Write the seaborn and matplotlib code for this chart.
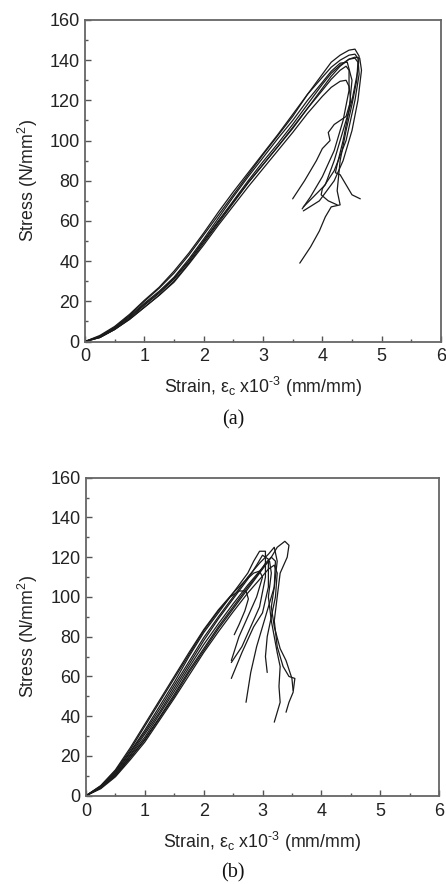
import matplotlib
matplotlib.use("Agg")
import matplotlib.pyplot as plt
from matplotlib.ticker import MultipleLocator
import seaborn as sns
import pandas as pd

# ---- Panel (a): stress-strain curves (strain x1e-3, stress N/mm2) ----
a1_strain = [0, .25, .5, .75, 1, 1.25, 1.5, 1.75, 2, 2.25, 2.5, 2.75, 3, 3.25, 3.5, 3.75, 4, 4.15, 4.3, 4.45, 4.55, 4.62,
             4.6, 4.5, 4.35, 4.2, 4.05, 3.85, 3.68]
a1_stress = [0, 2.5, 7, 13, 20, 26.5, 34, 43, 53, 63, 73, 83, 93, 102.5, 112, 123, 133, 139, 142.5, 145, 145.5, 142,
             135, 120, 105, 90, 78, 72, 67]
a2_strain = [0, .25, .5, .75, 1, 1.25, 1.5, 1.75, 2, 2.25, 2.5, 2.75, 3, 3.25, 3.5, 3.75, 4, 4.15, 4.3, 4.45, 4.55, 4.63, 4.66,
             4.6, 4.5, 4.35, 4.2, 3.95, 3.68]
a2_stress = [0, 2, 6, 11, 17, 23, 30, 39, 49, 59, 69, 79, 88, 97, 106, 116, 126, 132, 137, 140.5, 141.5, 141, 135,
             120, 105, 90, 80, 70, 65]
a3_strain = [0, .25, .5, .75, 1, 1.25, 1.5, 1.75, 2, 2.25, 2.5, 2.75, 3, 3.25, 3.5, 3.75, 4, 4.15, 4.3, 4.42,
             4.5, 4.45, 4.35, 4.25, 4.22, 4.3, 4.4, 4.5, 4.64]
a3_stress = [0, 2.5, 7, 12.5, 19, 25, 32, 41, 51, 61.5, 72, 82, 91.5, 101, 110, 120, 129, 134.5, 138.5, 139,
             130, 115, 100, 88, 84, 83, 78, 73, 71]
a4_strain = [0, .25, .5, .75, 1, 1.25, 1.5, 1.75, 2, 2.25, 2.5, 2.75, 3, 3.25, 3.5, 3.75, 4, 4.15, 4.3, 4.4,
             4.45, 4.48, 4.4, 4.2, 4.1, 4.13, 4.0, 3.9, 3.7, 3.5]
a4_stress = [0, 2, 6, 11, 17, 23, 29.5, 38.5, 48, 58, 67.5, 77, 86, 95, 104, 113.5, 122, 126.5, 129.5, 130,
             127, 120, 112, 108, 104, 100, 96, 90, 80, 71]
a5_strain = [0, .25, .5, .75, 1, 1.25, 1.5, 1.75, 2, 2.25, 2.5, 2.75, 3, 3.25, 3.5, 3.75, 4, 4.15, 4.3, 4.45, 4.55,
             4.6, 4.58, 4.5, 4.4, 4.3, 4.25, 4.3, 4.15, 4.05, 3.95, 3.8, 3.62]
a5_stress = [0, 2.5, 6.5, 12, 18.5, 24.5, 31.5, 40, 50, 60, 70, 80, 89.5, 98.5, 108, 118, 128, 133.5, 137.5, 140.5, 141,
             139, 130, 118, 105, 90, 75, 68, 67, 62, 55, 47, 39]
a6_strain = [0, .25, .5, .75, 1, 1.25, 1.5, 1.75, 2, 2.25, 2.5, 2.75, 3, 3.25, 3.5, 3.75, 4, 4.15, 4.3, 4.45, 4.55,
             4.6, 4.62, 4.55, 4.4, 4.2, 4.0, 3.98, 4.1, 4.25]
a6_stress = [0, 3, 7.5, 13.5, 20.5, 27, 35, 44, 54, 64.5, 74.5, 84, 93.5, 103, 113, 123, 131.5, 136.5, 140, 142.5, 143,
             141, 133, 120, 100, 85, 76, 73, 70, 68]
a7_strain = [0, .25, .5, .75, 1, 1.25, 1.5, 1.75, 2, 2.25, 2.5, 2.75, 3, 3.25, 3.5, 3.75, 4, 4.15, 4.3, 4.4,
             4.45, 4.45, 4.35, 4.2, 4.0, 3.8, 3.66]
a7_stress = [0, 2, 6, 11.5, 18, 24, 31, 40, 50, 60, 69.5, 79, 88, 97, 106.5, 116, 125, 130.5, 135, 137,
             135, 125, 110, 95, 82, 72, 66]

# ---- Panel (b) ----
b1_strain = [0, .25, .5, .75, 1, 1.25, 1.5, 1.75, 2, 2.25, 2.5, 2.75, 3, 3.15, 3.25, 3.38,
             3.45, 3.42, 3.3, 3.25, 3.2, 3.25, 3.35, 3.45, 3.55, 3.52, 3.45, 3.4]
b1_stress = [0, 4, 10, 19, 28, 39, 50, 62, 73, 84, 94, 104, 114, 120, 125, 128,
             126, 120, 112, 100, 88, 75, 65, 60, 59, 52, 47, 42]
b2_strain = [0, .25, .5, .75, 1, 1.25, 1.5, 1.75, 2, 2.25, 2.5, 2.75, 2.85, 2.95,
             3.05, 3.05, 2.95, 2.8, 2.65, 2.47]
b2_stress = [0, 4.5, 12, 22, 33, 45, 57, 70, 82, 92, 102, 112, 118, 123,
             123, 110, 95, 85, 75, 67]
b3_strain = [0, .25, .5, .75, 1, 1.25, 1.5, 1.75, 2, 2.25, 2.5, 2.75, 2.9, 3.0,
             3.1, 3.1, 3.0, 2.85, 2.65, 2.47]
b3_stress = [0, 4, 11, 20.5, 31, 42, 54, 66, 78, 89, 99, 109, 116, 121,
             119, 105, 92, 85, 72, 59]
b4_strain = [0, .25, .5, .75, 1, 1.25, 1.5, 1.75, 2, 2.25, 2.45, 2.6, 2.72,
             2.76, 2.7, 2.6, 2.52]
b4_stress = [0, 5, 12.5, 23, 35, 47, 59, 71, 83, 93, 100, 103, 103,
             99, 93, 86, 81]
b5_strain = [0, .25, .5, .75, 1, 1.25, 1.5, 1.75, 2, 2.25, 2.5, 2.75, 2.95, 3.05, 3.15,
             3.22, 3.2, 3.1, 3.0, 2.9, 2.8, 2.72]
b5_stress = [0, 4, 10, 19, 28.5, 39.5, 51, 63, 74, 85, 95, 105, 112.5, 117, 120,
             118, 105, 95, 85, 75, 62, 47]
b6_strain = [0, .25, .5, .75, 1, 1.25, 1.5, 1.75, 2, 2.25, 2.5, 2.75, 2.95, 3.05, 3.12,
             3.15, 3.1, 3.15, 3.2, 3.25, 3.3, 3.28, 3.3, 3.25, 3.2]
b6_stress = [0, 4, 10.5, 20, 29.5, 41, 52.5, 64.5, 76, 86.5, 96.5, 106, 113, 116.5, 118,
             112, 100, 88, 80, 72, 65, 55, 47, 42, 37]
b7_strain = [0, .25, .5, .75, 1, 1.25, 1.5, 1.75, 2, 2.25, 2.5, 2.75, 3.0, 3.1, 3.2,
             3.25, 3.22, 3.15, 3.08, 3.05, 3.08]
b7_stress = [0, 3.5, 9.5, 18, 27, 38, 49, 60.5, 72, 82.5, 92.5, 102, 110.5, 114, 116,
             112, 100, 90, 80, 70, 62]
b8_strain = [0, .25, .5, .75, 1, 1.25, 1.5, 1.75, 2, 2.25, 2.5, 2.75, 2.95, 3.1, 3.2,
             3.25, 3.2, 3.15, 3.2, 3.3, 3.4, 3.5, 3.52]
b8_stress = [0, 4.5, 11.5, 21.5, 32, 43.5, 55.5, 67.5, 79.5, 90, 100, 110, 117, 121.5, 125,
             118, 105, 95, 85, 74, 68, 59, 53]
b9_strain = [0, .25, .5, .75, 1, 1.25, 1.5, 1.75, 2, 2.25, 2.5, 2.7, 2.85, 2.95,
             3.0, 2.9, 2.75, 2.6, 2.47]
b9_stress = [0, 5, 13, 24, 36, 48, 60, 72, 83.5, 93.5, 102, 108, 112, 113,
             110, 100, 90, 80, 68]

x_ticks = [0, 1, 2, 3, 4, 5, 6]
y_ticks = [0, 20, 40, 60, 80, 100, 120, 140, 160]
x_label = "Strain, \u03b5$_{\\rm c}$ x10$^{\\rm \u2010 3}$ (mm/mm)"
y_label = r"Stress (N/mm$^{\rm 2}$)"
panel_labels = ["(a)", "(b)"]

panel_a = [(a1_strain, a1_stress), (a2_strain, a2_stress), (a3_strain, a3_stress),
           (a4_strain, a4_stress), (a5_strain, a5_stress), (a6_strain, a6_stress),
           (a7_strain, a7_stress)]
panel_b = [(b1_strain, b1_stress), (b2_strain, b2_stress), (b3_strain, b3_stress),
           (b4_strain, b4_stress), (b5_strain, b5_stress), (b6_strain, b6_stress),
           (b7_strain, b7_stress), (b8_strain, b8_stress), (b9_strain, b9_stress)]


def to_frame(curves):
    rows = []
    for cid, (xs, ys) in enumerate(curves):
        for i, (x, y) in enumerate(zip(xs, ys)):
            rows.append({"curve": cid, "order": i, "strain": x, "stress": y})
    return pd.DataFrame(rows)


sns.set_theme(style="ticks")
plt.rcParams["font.family"] = ["Liberation Sans", "DejaVu Sans"]
plt.rcParams["mathtext.fontset"] = "custom"
plt.rcParams["mathtext.rm"] = "Liberation Sans"
plt.rcParams["mathtext.it"] = "Liberation Sans:italic"

fig = plt.figure(figsize=(4.46, 8.84), dpi=100)
rects = [[85 / 446, (884 - 341.5) / 884, 356 / 446, 321.5 / 884],
         [86 / 446, (884 - 795.7) / 884, 353 / 446, 318 / 884]]
label_y = [420, 873]
ylab_x = [-0.127, -0.130]
xlab_y = [-0.105, -0.108]

for k, (curves, rect) in enumerate(zip([panel_a, panel_b], rects)):
    ax = fig.add_axes(rect)
    df = to_frame(curves)
    sns.lineplot(data=df, x="strain", y="stress", units="curve", estimator=None,
                 sort=False, color="#1a1a1a", lw=0.9, ax=ax)
    ax.set_xlim(0, 6)
    ax.set_ylim(0, 160)
    ax.set_xticks(x_ticks)
    ax.set_yticks(y_ticks)
    ax.xaxis.set_minor_locator(MultipleLocator(0.5))
    ax.yaxis.set_minor_locator(MultipleLocator(10))
    ax.tick_params(which="both", direction="in", color="#555555", labelsize=13,
                   labelcolor="#222222", width=1.0)
    ax.tick_params(which="major", length=4)
    ax.tick_params(axis="x", which="major", pad=5)
    ax.tick_params(axis="y", which="major", pad=4)
    ax.tick_params(which="minor", length=2.5)
    for s in ax.spines.values():
        s.set_visible(True)
        s.set_color("#666666")
        s.set_linewidth(1.3)
    ax.set_xlabel(x_label, fontsize=12.8, color="#222222")
    ax.set_ylabel(y_label, fontsize=12.8, color="#222222")
    ax.yaxis.set_label_coords(ylab_x[k], 0.5)
    ax.xaxis.set_label_coords(0.5, xlab_y[k])
    fig.text(233 / 446, 1 - label_y[k] / 884, panel_labels[k], ha="center", va="center",
             fontsize=14.5, family="Liberation Serif", color="#111111")

fig.savefig("out.png", dpi=100)
